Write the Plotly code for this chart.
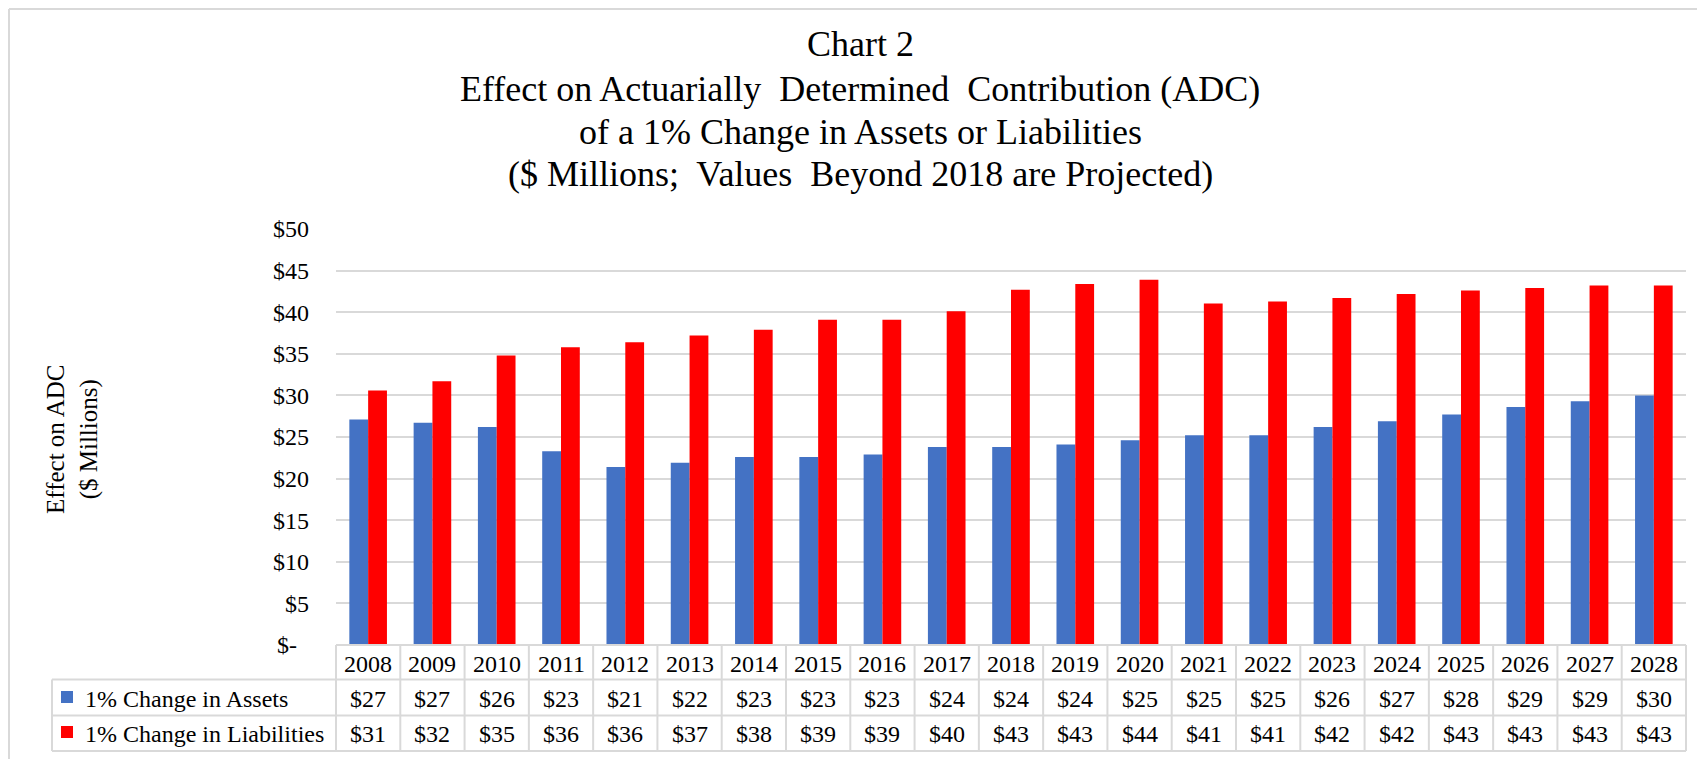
import plotly.graph_objects as go

# ---------------- data ----------------
years = ["2008", "2009", "2010", "2011", "2012", "2013", "2014", "2015", "2016", "2017", "2018",
         "2019", "2020", "2021", "2022", "2023", "2024", "2025", "2026", "2027", "2028"]
assets = [27.1, 26.7, 26.2, 23.3, 21.4, 21.9, 22.6, 22.6, 22.9, 23.8, 23.8,
          24.1, 24.6, 25.2, 25.2, 26.2, 26.9, 27.7, 28.6, 29.3, 30.0]
liabilities = [30.6, 31.7, 34.8, 35.8, 36.4, 37.2, 37.9, 39.1, 39.1, 40.1, 42.7,
               43.4, 43.9, 41.05, 41.3, 41.7, 42.2, 42.6, 42.9, 43.2, 43.2]
series_names = ["1% Change in Assets", "1% Change in Liabilities"]
title_lines = ["Chart 2",
               "Effect on Actuarially  Determined  Contribution (ADC)",
               "of a 1% Change in Assets or Liabilities",
               "($ Millions;  Values  Beyond 2018 are Projected)"]
y_tickvals = [0, 5, 10, 15, 20, 25, 30, 35, 40, 45, 50]
y_ticktext = ["$-\u00a0\u00a0", "$5", "$10", "$15", "$20", "$25", "$30", "$35", "$40", "$45", "$50"]

BLUE = "#4472C4"
RED = "#FF0000"
GRID = "#d9d9d9"
FONT = "Liberation Serif"

# the page body adds an 8px offset; targets below are in page pixels
OFF = 8
W, H = 1705, 759
PLOT_L, PLOT_R, PLOT_T, PLOT_B = 336, 1686, 229, 645      # page pixels
L = PLOT_L - OFF
R = W - (PLOT_R - OFF)
T = PLOT_T - OFF
B = H - (PLOT_B - OFF)
PW, PH = W - L - R, H - T - B
N = len(years)


def px(xp):
    return (xp - OFF - L) / PW


def py(yp):
    return (H - B - (yp - OFF)) / PH


fig = go.Figure()
fig.add_trace(go.Bar(x=years, y=assets, name=series_names[0], marker=dict(color=BLUE, line=dict(width=0))))
fig.add_trace(go.Bar(x=years, y=liabilities, name=series_names[1], marker=dict(color=RED, line=dict(width=0))))

annotations = []
# title lines
for txt, yc in zip(title_lines, [44, 89, 132, 174]):
    annotations.append(dict(text=txt, xref="paper", yref="paper", x=px(860), y=py(yc),
                            xanchor="center", yanchor="middle", showarrow=False,
                            font=dict(family=FONT, size=36, color="black")))
# y-axis title
annotations.append(dict(text="Effect on ADC<br>($ Millions)", xref="paper", yref="paper",
                        x=px(72), y=py(439), xanchor="center", yanchor="middle",
                        textangle=-90, showarrow=False,
                        font=dict(family=FONT, size=25, color="black")))

# table rows
row_top, row1, row2, row_bot = 645, 679.5, 715.5, 751
left_edge = 52
tf = dict(family=FONT, size=24, color="black")
for i, yr in enumerate(years):
    annotations.append(dict(text=yr, xref="x", yref="paper", x=i, y=py(664), xanchor="center",
                            yanchor="middle", showarrow=False, font=tf))
    annotations.append(dict(text=f"${assets[i]:.0f}", xref="x", yref="paper", x=i, y=py(699),
                            xanchor="center", yanchor="middle", showarrow=False, font=tf))
    annotations.append(dict(text=f"${liabilities[i]:.0f}", xref="x", yref="paper", x=i, y=py(734),
                            xanchor="center", yanchor="middle", showarrow=False, font=tf))
for name, yc in zip(series_names, [699, 734]):
    annotations.append(dict(text=name, xref="paper", yref="paper", x=px(83), y=py(yc),
                            xanchor="left", yanchor="middle", showarrow=False, font=tf))

shapes = []
line = dict(color=GRID, width=2)
# horizontal table lines
shapes.append(dict(type="line", xref="paper", yref="paper", x0=0, x1=1, y0=py(row_top), y1=py(row_top), line=line))
for yy in [row1, row2, row_bot]:
    shapes.append(dict(type="line", xref="paper", yref="paper", x0=px(left_edge), x1=1,
                       y0=py(yy), y1=py(yy), line=line))
# vertical table lines
shapes.append(dict(type="line", xref="paper", yref="paper", x0=px(left_edge), x1=px(left_edge),
                   y0=py(row1), y1=py(row_bot), line=line))
for k in range(N + 1):
    shapes.append(dict(type="line", xref="paper", yref="paper", x0=k / N, x1=k / N,
                       y0=py(row_top), y1=py(row_bot), line=line))
# legend keys
for col, yc in zip([BLUE, RED], [697, 732]):
    shapes.append(dict(type="rect", xref="paper", yref="paper", x0=px(61), x1=px(73),
                       y0=py(yc - 6), y1=py(yc + 6), fillcolor=col, line=dict(width=0)))
# outer chart border (top and left)
shapes.append(dict(type="line", xref="paper", yref="paper", x0=px(OFF + 1), x1=px(W + 20),
                   y0=py(OFF + 1), y1=py(OFF + 1), line=dict(color=GRID, width=2)))
shapes.append(dict(type="line", xref="paper", yref="paper", x0=px(OFF + 1), x1=px(OFF + 1),
                   y0=py(OFF + 1), y1=py(H + 20), line=dict(color=GRID, width=2)))

fig.update_layout(
    width=W, height=H,
    margin=dict(l=L, r=R, t=T, b=B, pad=0),
    paper_bgcolor="white", plot_bgcolor="white",
    barmode="group", bargap=0.415, bargroupgap=0,
    showlegend=False,
    font=dict(family=FONT, size=24, color="black"),
    xaxis=dict(type="category", range=[-0.5, N - 0.5], autorange=False, showticklabels=False,
               showgrid=False, zeroline=False, showline=False, ticks=""),
    yaxis=dict(range=[0, 50], autorange=False, tickvals=y_tickvals, ticktext=y_ticktext, showgrid=True,
               gridcolor=GRID, gridwidth=2, zeroline=False, showline=False, ticks="",
               ticklabelstandoff=26, tickfont=dict(family=FONT, size=24, color="black")),
    annotations=annotations,
    shapes=shapes,
)

fig.write_html("out.html")
